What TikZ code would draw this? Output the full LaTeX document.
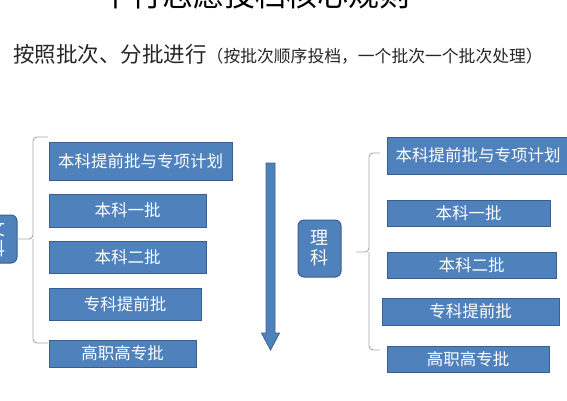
\documentclass[tikz,border=0pt]{standalone}
\usepackage{fontspec}
\setmainfont{Noto Sans CJK SC}
\newfontfamily\cjk{Noto Sans CJK SC}
\definecolor{boxblue}{HTML}{4F81BD}
\definecolor{boxedge}{HTML}{3A5F8F}
\definecolor{bracegray}{HTML}{A6A6A6}
\tikzset{
  batch/.style={draw=boxedge, line width=1pt, fill=boxblue, text=white, inner sep=0pt,
    font=\cjk\fontsize{16.5}{18}\selectfont},
  kind/.style={draw=boxedge, line width=1pt, fill=boxblue, text=white, inner sep=0pt,
    rounded corners=6pt, align=center, font=\cjk\fontsize{18}{20}\selectfont},
  brace/.style={draw=bracegray, line width=0.9pt, rounded corners=4pt},
}
\begin{document}
\begin{tikzpicture}[x=1pt,y=-1pt]
\useasboundingbox (0,0) rectangle (567,400);
% title (cut by top edge)
\node[anchor=base, inner sep=0pt, font=\cjk\fontsize{31}{33}\selectfont] (title) at (255.5,6) {平行志愿投档核心规则};
% subtitle
\node[anchor=base west, inner sep=0pt, text=black!85] (sub) at (13,62.5)
  {{\fontsize{21.5}{23}\selectfont 按照批次、分批进行}{\fontsize{16.8}{18}\selectfont （按批次顺序投档，一个批次一个批次处理）}};
% left group (文科, cut by left edge)
\node[kind, minimum width=41pt, minimum height=48pt] (wk) at (-3.5,239) {文\\科};
\node[batch, minimum width=183pt, minimum height=38pt] (l1) at (140.5,161) {本科提前批与专项计划};
\node[batch, minimum width=157pt, minimum height=33pt] (l2) at (127.5,210.5) {本科一批};
\node[batch, minimum width=157pt, minimum height=32pt] (l3) at (127.5,257) {本科二批};
\node[batch, minimum width=152pt, minimum height=32pt] (l4) at (125,304) {专科提前批};
\node[batch, minimum width=147pt, minimum height=27pt] (l5) at (122.5,353.5) {高职高专批};
\coordinate (lb1) at (48,137);
\coordinate (lb2) at (33,137);
\coordinate (lb3) at (33,239);
\coordinate (lb4) at (33,343);
\coordinate (lb5) at (48,343);
\draw[brace] (lb1) -- (lb2) -- (lb3) -- (wk.east |- lb3);
\draw[brace] (lb3) -- (lb4) -- (lb5);
% down arrow
\filldraw[fill=boxblue, draw=boxedge, line width=0.8pt, line join=miter]
  (266,163) -- (275,163) -- (275,333) -- (279.5,333) -- (270.5,350) -- (261.5,333) -- (266,333) -- cycle;
% right group (理科)
\node[kind, minimum width=43pt, minimum height=57pt] (lk) at (319.5,248.5) {理\\科};
\node[batch, minimum width=182pt, minimum height=37pt] (r1) at (478,155.5) {本科提前批与专项计划};
\node[batch, minimum width=163pt, minimum height=26pt] (r2) at (468.5,213) {本科一批};
\node[batch, minimum width=169pt, minimum height=26pt] (r3) at (471.5,265) {本科二批};
\node[batch, minimum width=177pt, minimum height=27pt] (r4) at (470.5,311.5) {专科提前批};
\node[batch, minimum width=162pt, minimum height=26pt] (r5) at (468,359) {高职高专批};
\coordinate (rb1) at (380,153);
\coordinate (rb2) at (369,153);
\coordinate (rb3) at (369,252);
\coordinate (rtip) at (356,252);
\coordinate (rb4) at (369,350);
\coordinate (rb5) at (380,350);
\draw[brace] (rb1) -- (rb2) -- (rb3) -- (rtip);
\draw[brace] (rb3) -- (rb4) -- (rb5);
\end{tikzpicture}
\end{document}
